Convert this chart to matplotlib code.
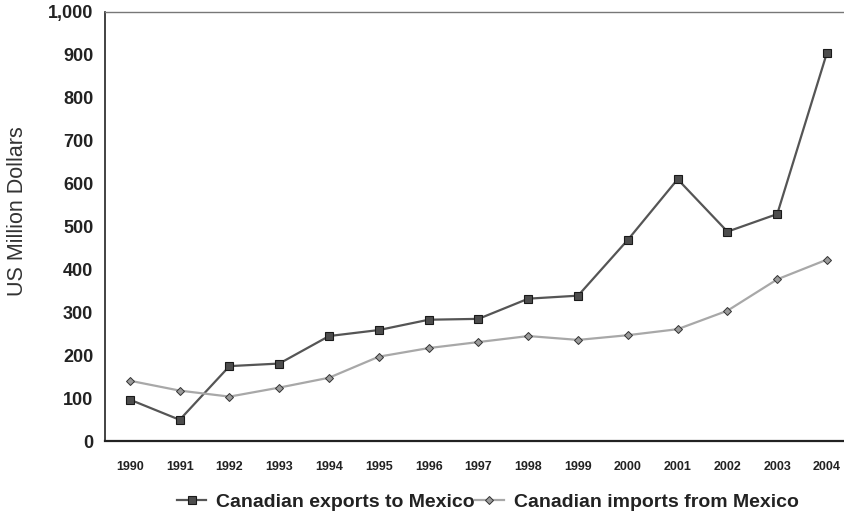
import numpy as np
import matplotlib.pyplot as plt
from matplotlib.ticker import FuncFormatter

plt.rcParams['font.family'] = ['Liberation Sans', 'DejaVu Sans']

# Data (US$ million)
years = ['1990', '1991', '1992', '1993', '1994', '1995', '1996', '1997',
         '1998', '1999', '2000', '2001', '2002', '2003', '2004']
exports = [97, 50, 175, 181, 245, 259, 283, 285,
           332, 339, 469, 610, 488, 529, 905]
imports = [141, 118, 104, 125, 148, 197, 217, 231,
           245, 236, 247, 261, 304, 377, 423]
y_ticks = [0, 100, 200, 300, 400, 500, 600, 700, 800, 900, 1000]

fig = plt.figure(figsize=(8.44, 5.15), dpi=100)
ax = fig.add_axes([0.1244, 0.1431, 0.885, 0.8342])

x = np.arange(len(years))
ax.plot(x, exports, color='#555555', lw=1.6, marker='s', ms=6,
        mfc='#4d4d4d', mec='#1a1a1a', mew=0.8,
        label='Canadian exports to Mexico')
ax.plot(x, imports, color='#a8a8a8', lw=1.6, marker='D', ms=3.6,
        mfc='#9a9a9a', mec='#333333', mew=0.7,
        label='Canadian imports from Mexico')

ax.set_xlim(-0.5, len(years) - 0.5)
ax.set_ylim(0, 1000)
ax.set_xticks(x)
ax.set_xticklabels(years, fontsize=9, fontweight='bold', color='#222222')
ax.set_yticks(y_ticks)
ax.yaxis.set_major_formatter(FuncFormatter(lambda v, p: f'{int(v):,}'))
for lab in ax.get_yticklabels():
    lab.set_fontsize(13)
    lab.set_fontweight('bold')
    lab.set_color('#222222')
ax.tick_params(axis='y', length=0, pad=8.5)
ax.tick_params(axis='x', length=0, pad=14)

ax.spines['right'].set_visible(False)
ax.spines['left'].set_color('#222222')
ax.spines['left'].set_linewidth(1.2)
ax.spines['bottom'].set_color('#222222')
ax.spines['bottom'].set_linewidth(1.6)
ax.spines['top'].set_color('#777777')
ax.spines['top'].set_linewidth(1.0)

fig.text(0.021, 0.59, 'US Million Dollars', rotation=90, fontsize=15.5,
         color='#333333', ha='center', va='center')

fig.legend(loc='center', bbox_to_anchor=(0.578, 0.025), ncol=2, frameon=False,
           prop={'size': 14, 'weight': 'bold'}, handlelength=1.5,
           handletextpad=0.5, columnspacing=0.0, labelcolor='#222222')

fig.savefig('out.png', dpi=100)
